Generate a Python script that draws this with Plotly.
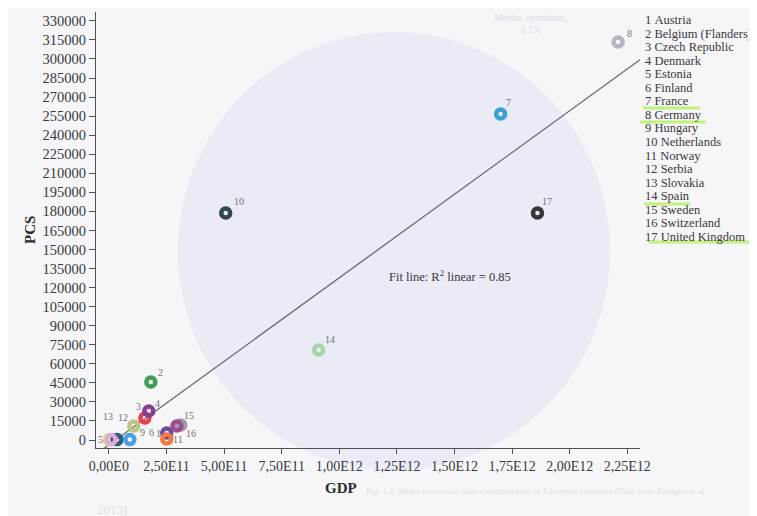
import numpy as np
import plotly.graph_objects as go

# ---------------- data ----------------
ids = list(range(1, 18))
countries = ["Austria", "Belgium (Flanders)", "Czech Republic", "Denmark", "Estonia",
             "Finland", "France", "Germany", "Hungary", "Netherlands", "Norway",
             "Serbia", "Slovakia", "Spain", "Sweden", "Switzerland", "United Kingdom"]
gdp = [2.51e11, 1.82e11, 1.56e11, 1.73e11, 0.00e11,
       0.35e11, 1.70e12, 2.21e12, 0.91e11, 5.07e11, 2.51e11,
       1.08e11, 0.09e11, 9.10e11, 3.12e11, 2.95e11, 1.86e12]
pcs = [5500, 45700, 17300, 22800, 300,
       300, 256700, 313400, 300, 178700, 800,
       11000, 300, 70900, 11800, 11000, 178700]
colors = ["#6f4a9e", "#3f9e55", "#e8404e", "#8a3d92", "#e4e08a",
          "#2c5f7e", "#3aa0d4", "#b4b4c4", "#4d9fe3", "#33474a", "#f27a3c",
          "#bcc67e", "#e2a8d6", "#a6d6a6", "#9aa0a8", "#a44c90", "#363636"]
# label offsets from each marker, in pixels (right, down)
label_dx = [-8, 10, -6, 9, -8, 35, 8, 11, 13, 13, 11, -11, -3, 11, 8, 14, 10]
label_dy = [0, -9, -12, -8, 0, -7, -11, -8, -7, -12, 1, -9, -23, -10, -10, 7, -12]

x_ticks = [0, 2.5e11, 5.0e11, 7.5e11, 1.0e12, 1.25e12, 1.5e12, 1.75e12, 2.0e12, 2.25e12]
x_tick_labels = ["0,00E0", "2,50E11", "5,00E11", "7,50E11", "1,00E12", "1,25E12",
                 "1,50E12", "1,75E12", "2,00E12", "2,25E12"]
y_ticks = list(range(0, 330001, 15000))
r2_text = "Fit line: R<sup>2</sup> linear = 0.85"

# ---------------- layout geometry ----------------
OFF = 8                      # page body margin of the html page
W, H = 757 - OFF, 516 - OFF
L, R, T, B = 96 - OFF, 640 - OFF, 12 - OFF, 448 - OFF
x_range = [-5.6e10, 2.305e12]
y_range = [-6300, 337000]


def px(x):
    return (x - OFF - L) / (R - L)


def py(y):
    return (B - (y - OFF)) / (B - T)


serif = "Liberation Serif, Times New Roman, serif"
ink = "#38383e"

fig = go.Figure()

# fit line (least squares on the data)
slope, intercept = np.polyfit(gdp, pcs, 1)
fx = np.array(x_range)
fig.add_trace(go.Scatter(x=fx, y=slope * fx + intercept, mode="lines",
                         line=dict(color="#6a6a70", width=1.3),
                         hoverinfo="skip", showlegend=False))

# points
fig.add_trace(go.Scatter(
    x=gdp, y=pcs, mode="markers",
    marker=dict(symbol="circle-open", size=9, color=colors,
                line=dict(width=4.5, color=colors)),
    cliponaxis=False, showlegend=False, hovertext=countries))

shapes = [
    # faint bleed-through disc from the other side of the page
    dict(type="circle", xref="paper", yref="paper",
         x0=px(178), x1=px(610), y0=py(470), y1=py(32),
         fillcolor="rgba(205,210,238,0.28)", line=dict(width=0), layer="below"),
]
# highlighter marks
for (x0, x1, yy) in [(643, 700, 108), (640, 706, 122), (644, 690, 204), (648, 757, 242)]:
    shapes.append(dict(type="line", xref="paper", yref="paper",
                       x0=px(x0), x1=px(x1), y0=py(yy), y1=py(yy),
                       line=dict(color="rgba(175,240,70,0.7)", width=3)))

annotations = []
for n, xv, yv, dx, dy in zip(ids, gdp, pcs, label_dx, label_dy):
    annotations.append(dict(x=xv, y=yv, xref="x", yref="y", text=str(n), showarrow=False,
                            xshift=dx, yshift=-dy, xanchor="center", yanchor="middle",
                            font=dict(family=serif, size=10, color="#707078")))

for i, (n, c) in enumerate(zip(ids, countries)):
    annotations.append(dict(
        xref="paper", yref="paper", x=px(643), y=py(20 + i * 13.55),
        text=f"{n}&nbsp;{c}", showarrow=False, xanchor="left", yanchor="middle",
        font=dict(family=serif, size=12.5, color=ink)))

annotations.append(dict(xref="paper", yref="paper", x=px(450), y=py(276), text=r2_text,
                        showarrow=False, xanchor="center", yanchor="middle",
                        font=dict(family=serif, size=12.5, color=ink)))
annotations.append(dict(xref="paper", yref="paper", x=px(30), y=py(230), text="<b>PCS</b>",
                        textangle=-90, showarrow=False, xanchor="center", yanchor="middle",
                        font=dict(family=serif, size=15, color="#2a2a30")))
annotations.append(dict(xref="paper", yref="paper", x=px(341), y=py(488), text="<b>GDP</b>",
                        showarrow=False, xanchor="center", yanchor="middle",
                        font=dict(family=serif, size=15, color="#2a2a30")))
# faint bleed-through texts
faint = "rgba(200,200,215,0.55)"
annotations.append(dict(xref="paper", yref="paper", x=px(364), y=py(491),
                        text="Fig. 1.2  Major sources of sites contamination in European countries (Data from Panagos et al.",
                        xanchor="left", yanchor="middle", showarrow=False,
                        font=dict(family=serif, size=9, color=faint)))
annotations.append(dict(xref="paper", yref="paper", x=px(95), y=py(510), text="2013)",
                        xanchor="left", yanchor="middle", showarrow=False,
                        font=dict(family=serif, size=13, color=faint)))
annotations.append(dict(xref="paper", yref="paper", x=px(530), y=py(24),
                        text="Median operations,<br>0.1%", showarrow=False,
                        xanchor="center", yanchor="middle",
                        font=dict(family=serif, size=9.5, color="rgba(195,200,220,0.6)")))

fig.update_layout(
    width=W, height=H,
    margin=dict(l=L, r=W - R, t=T, b=H - B),
    paper_bgcolor="#f6f6f8", plot_bgcolor="rgba(0,0,0,0)",
    shapes=shapes, annotations=annotations,
    font=dict(family=serif, size=13, color=ink),
)
fig.update_xaxes(range=x_range, tickvals=x_ticks, ticktext=x_tick_labels,
                 showgrid=False, zeroline=False, showline=True, linecolor="#505058",
                 linewidth=1.2, ticks="outside", ticklen=5, tickcolor="#505058",
                 tickfont=dict(family=serif, size=14, color=ink))
fig.update_yaxes(range=y_range, tickvals=y_ticks, ticktext=[str(v) for v in y_ticks],
                 showgrid=False, zeroline=False, showline=True, linecolor="#505058",
                 linewidth=1.2, ticks="outside", ticklen=6, tickcolor="#505058",
                 tickfont=dict(family=serif, size=14.5, color=ink))

fig.write_html("out.html")
